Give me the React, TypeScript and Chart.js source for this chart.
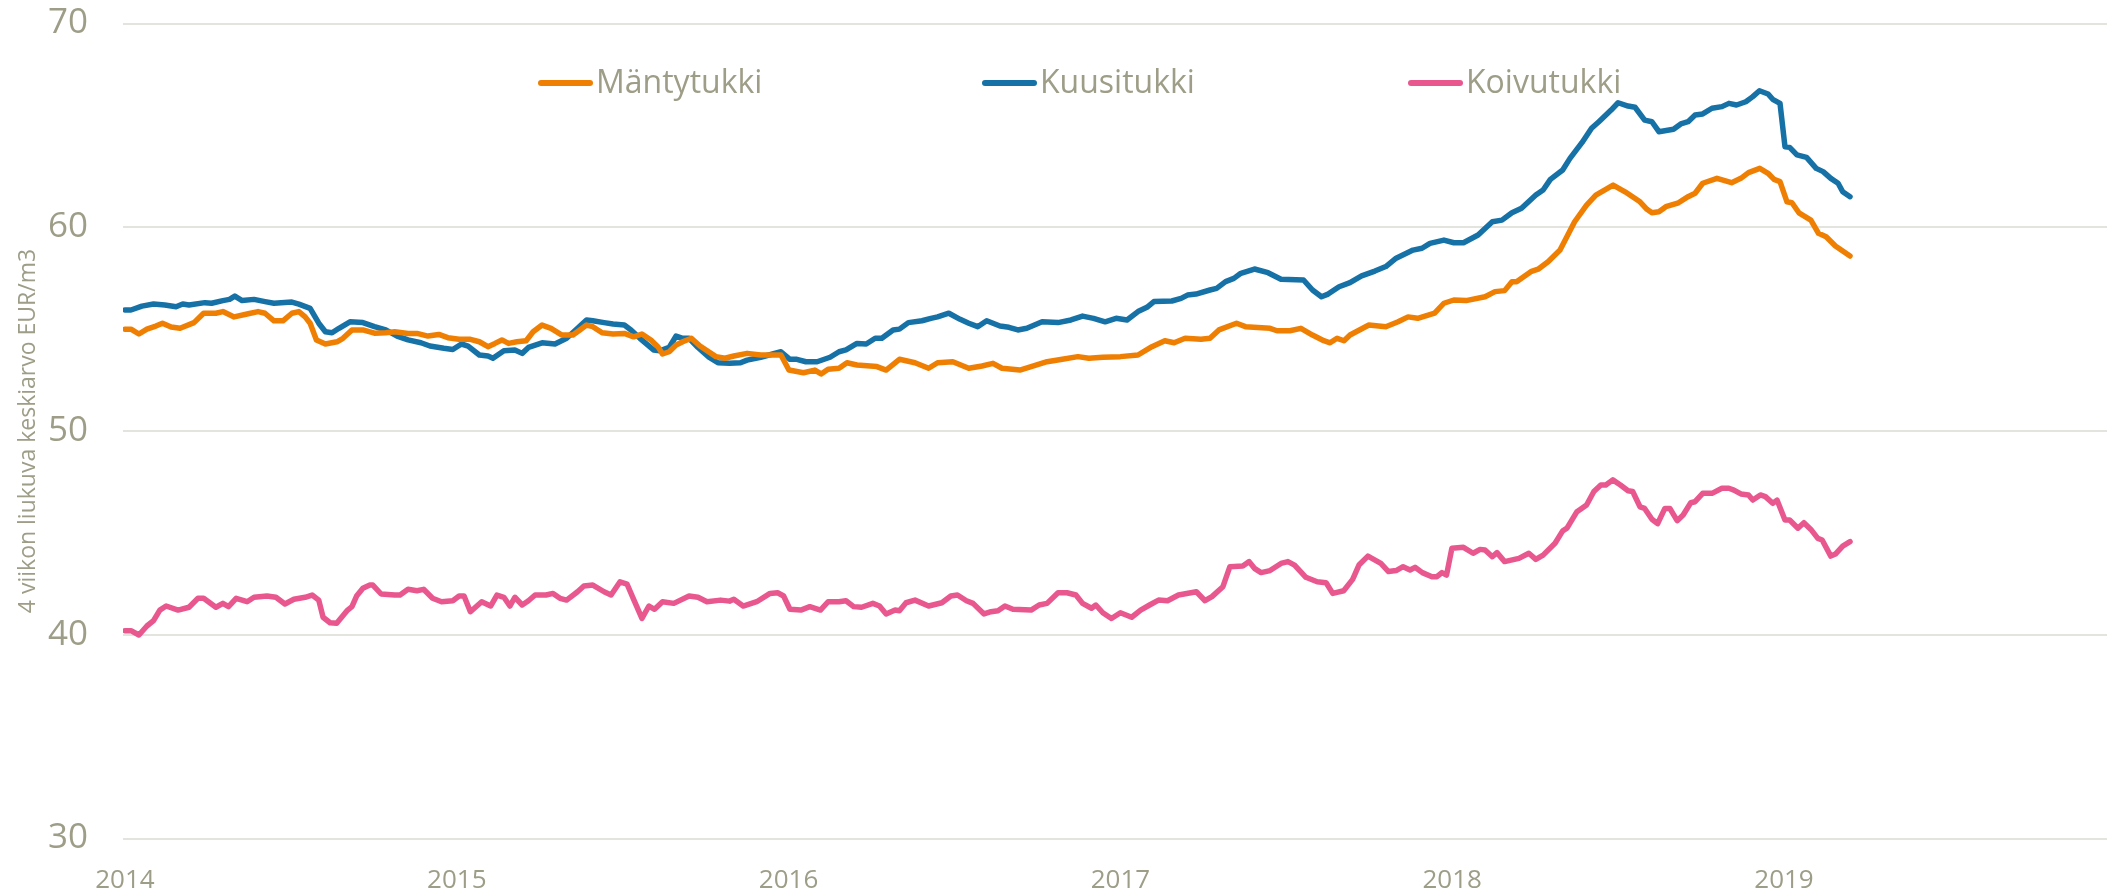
import React, { useEffect, useRef } from "react";
import { Chart, registerables } from "chart.js";

Chart.register(...registerables);

// Weekly 4-week moving averages, [decimal year, EUR/m3]
const mantytukki: [number, number][] = [
  [2014.0, 55.0], [2014.018, 55.0], [2014.042, 54.76], [2014.066, 55.0], [2014.093, 55.15], [2014.113, 55.29],
  [2014.139, 55.1], [2014.166, 55.04], [2014.208, 55.32], [2014.237, 55.78], [2014.274, 55.78], [2014.295, 55.86],
  [2014.329, 55.6], [2014.368, 55.74], [2014.401, 55.86], [2014.422, 55.78], [2014.449, 55.41], [2014.476, 55.41],
  [2014.503, 55.78], [2014.524, 55.86], [2014.543, 55.6], [2014.558, 55.29], [2014.577, 54.47], [2014.604, 54.27],
  [2014.639, 54.38], [2014.657, 54.55], [2014.684, 54.96], [2014.717, 54.96], [2014.752, 54.8], [2014.786, 54.82],
  [2014.813, 54.87], [2014.853, 54.79], [2014.88, 54.79], [2014.913, 54.66], [2014.946, 54.74], [2014.973, 54.58],
  [2015.007, 54.5], [2015.041, 54.5], [2015.068, 54.38], [2015.094, 54.14], [2015.115, 54.3], [2015.136, 54.47],
  [2015.156, 54.3], [2015.181, 54.38], [2015.209, 54.43], [2015.23, 54.87], [2015.257, 55.2], [2015.284, 55.04],
  [2015.317, 54.71], [2015.35, 54.71], [2015.371, 54.96], [2015.391, 55.2], [2015.41, 55.12], [2015.438, 54.82],
  [2015.471, 54.76], [2015.505, 54.79], [2015.533, 54.62], [2015.558, 54.76], [2015.585, 54.47], [2015.606, 54.14],
  [2015.62, 53.78], [2015.64, 53.89], [2015.661, 54.22], [2015.681, 54.38], [2015.707, 54.55], [2015.733, 54.17],
  [2015.781, 53.65], [2015.808, 53.57], [2015.835, 53.68], [2015.875, 53.81], [2015.916, 53.73], [2015.977, 53.73],
  [2016.001, 52.99], [2016.045, 52.86], [2016.079, 52.99], [2016.098, 52.8], [2016.119, 53.03], [2016.152, 53.08],
  [2016.176, 53.35], [2016.206, 53.24], [2016.266, 53.16], [2016.294, 52.99], [2016.334, 53.52], [2016.381, 53.35],
  [2016.422, 53.08], [2016.449, 53.35], [2016.495, 53.4], [2016.543, 53.08], [2016.583, 53.19], [2016.616, 53.32],
  [2016.643, 53.08], [2016.697, 52.99], [2016.731, 53.16], [2016.779, 53.4], [2016.825, 53.52], [2016.872, 53.65],
  [2016.905, 53.57], [2016.947, 53.62], [2017.0, 53.65], [2017.053, 53.73], [2017.095, 54.14], [2017.134, 54.43],
  [2017.162, 54.33], [2017.195, 54.55], [2017.243, 54.5], [2017.27, 54.55], [2017.297, 54.96], [2017.35, 55.29],
  [2017.377, 55.12], [2017.451, 55.04], [2017.472, 54.92], [2017.511, 54.92], [2017.544, 55.04], [2017.579, 54.71],
  [2017.613, 54.43], [2017.632, 54.33], [2017.653, 54.55], [2017.674, 54.43], [2017.692, 54.71], [2017.749, 55.2],
  [2017.8, 55.12], [2017.837, 55.36], [2017.867, 55.6], [2017.896, 55.53], [2017.947, 55.78], [2017.975, 56.27],
  [2018.005, 56.43], [2018.042, 56.4], [2018.099, 56.59], [2018.129, 56.84], [2018.158, 56.89], [2018.18, 57.33],
  [2018.194, 57.33], [2018.237, 57.82], [2018.259, 57.94], [2018.289, 58.31], [2018.325, 58.88], [2018.369, 60.27],
  [2018.405, 61.09], [2018.433, 61.58], [2018.485, 62.07], [2018.521, 61.74], [2018.566, 61.25], [2018.587, 60.88],
  [2018.602, 60.71], [2018.623, 60.76], [2018.644, 61.01], [2018.682, 61.2], [2018.711, 61.5], [2018.732, 61.67],
  [2018.755, 62.16], [2018.798, 62.4], [2018.842, 62.19], [2018.87, 62.4], [2018.893, 62.68], [2018.927, 62.89],
  [2018.952, 62.65], [2018.97, 62.35], [2018.988, 62.24], [2019.009, 61.25], [2019.024, 61.2], [2019.045, 60.71],
  [2019.081, 60.35], [2019.104, 59.7], [2019.127, 59.53], [2019.155, 59.08], [2019.199, 58.59],
];

const kuusitukki: [number, number][] = [
  [2014.0, 55.94], [2014.018, 55.94], [2014.051, 56.13], [2014.086, 56.23], [2014.12, 56.18], [2014.154, 56.1],
  [2014.174, 56.23], [2014.193, 56.18], [2014.241, 56.3], [2014.261, 56.27], [2014.295, 56.4], [2014.315, 56.46],
  [2014.331, 56.62], [2014.353, 56.4], [2014.389, 56.46], [2014.422, 56.35], [2014.449, 56.27], [2014.503, 56.33],
  [2014.524, 56.23], [2014.558, 56.02], [2014.584, 55.29], [2014.604, 54.87], [2014.624, 54.82], [2014.645, 55.04],
  [2014.678, 55.36], [2014.717, 55.32], [2014.752, 55.12], [2014.786, 54.96], [2014.82, 54.66], [2014.853, 54.47],
  [2014.892, 54.33], [2014.919, 54.17], [2014.961, 54.06], [2014.988, 54.0], [2015.014, 54.27], [2015.034, 54.17],
  [2015.068, 53.73], [2015.094, 53.68], [2015.109, 53.57], [2015.142, 53.94], [2015.175, 53.98], [2015.197, 53.81],
  [2015.216, 54.1], [2015.257, 54.33], [2015.296, 54.27], [2015.331, 54.55], [2015.364, 55.04], [2015.391, 55.45],
  [2015.41, 55.41], [2015.444, 55.32], [2015.471, 55.25], [2015.505, 55.2], [2015.525, 54.96], [2015.552, 54.55],
  [2015.593, 53.98], [2015.612, 53.94], [2015.64, 54.1], [2015.661, 54.66], [2015.681, 54.55], [2015.7, 54.55],
  [2015.727, 54.1], [2015.76, 53.62], [2015.787, 53.35], [2015.822, 53.32], [2015.855, 53.35], [2015.875, 53.48],
  [2015.916, 53.62], [2015.977, 53.89], [2016.004, 53.52], [2016.025, 53.52], [2016.052, 53.4], [2016.086, 53.4],
  [2016.125, 53.62], [2016.152, 53.89], [2016.173, 53.98], [2016.206, 54.3], [2016.234, 54.27], [2016.261, 54.55],
  [2016.281, 54.55], [2016.315, 54.96], [2016.334, 55.0], [2016.361, 55.32], [2016.402, 55.41], [2016.429, 55.53],
  [2016.449, 55.6], [2016.483, 55.78], [2016.517, 55.48], [2016.543, 55.29], [2016.57, 55.12], [2016.597, 55.41],
  [2016.637, 55.15], [2016.664, 55.09], [2016.691, 54.96], [2016.718, 55.04], [2016.764, 55.36], [2016.812, 55.32],
  [2016.851, 55.45], [2016.886, 55.64], [2016.919, 55.53], [2016.954, 55.36], [2016.987, 55.53], [2017.02, 55.45],
  [2017.053, 55.86], [2017.08, 56.07], [2017.101, 56.35], [2017.155, 56.38], [2017.183, 56.51], [2017.202, 56.67],
  [2017.228, 56.72], [2017.27, 56.92], [2017.29, 57.0], [2017.317, 57.33], [2017.342, 57.49], [2017.363, 57.74],
  [2017.404, 57.95], [2017.445, 57.77], [2017.484, 57.45], [2017.552, 57.41], [2017.579, 56.92], [2017.606, 56.59],
  [2017.626, 56.72], [2017.659, 57.08], [2017.692, 57.28], [2017.727, 57.61], [2017.767, 57.85], [2017.8, 58.07],
  [2017.831, 58.48], [2017.882, 58.88], [2017.909, 58.97], [2017.933, 59.21], [2017.975, 59.37], [2018.005, 59.24],
  [2018.034, 59.24], [2018.078, 59.62], [2018.121, 60.27], [2018.15, 60.35], [2018.18, 60.71], [2018.209, 60.93],
  [2018.252, 61.58], [2018.274, 61.83], [2018.296, 62.35], [2018.333, 62.81], [2018.355, 63.38], [2018.391, 64.15],
  [2018.42, 64.86], [2018.442, 65.18], [2018.479, 65.75], [2018.5, 66.11], [2018.53, 65.95], [2018.551, 65.89],
  [2018.58, 65.26], [2018.602, 65.18], [2018.623, 64.69], [2018.667, 64.81], [2018.689, 65.07], [2018.711, 65.18],
  [2018.732, 65.51], [2018.755, 65.56], [2018.783, 65.84], [2018.813, 65.92], [2018.834, 66.08], [2018.857, 66.0],
  [2018.885, 66.16], [2018.906, 66.41], [2018.926, 66.7], [2018.952, 66.54], [2018.966, 66.28], [2018.988, 66.08],
  [2019.003, 63.95], [2019.017, 63.92], [2019.039, 63.55], [2019.068, 63.43], [2019.097, 62.89], [2019.118, 62.73],
  [2019.141, 62.4], [2019.163, 62.16], [2019.177, 61.74], [2019.199, 61.5],
];

const koivutukki: [number, number][] = [
  [2014.0, 40.2], [2014.018, 40.2], [2014.042, 39.99], [2014.066, 40.43], [2014.086, 40.69], [2014.105, 41.21],
  [2014.124, 41.41], [2014.16, 41.21], [2014.193, 41.35], [2014.22, 41.79], [2014.237, 41.79], [2014.274, 41.35],
  [2014.295, 41.54], [2014.312, 41.38], [2014.335, 41.79], [2014.368, 41.62], [2014.389, 41.84], [2014.428, 41.9],
  [2014.455, 41.84], [2014.482, 41.51], [2014.509, 41.74], [2014.543, 41.84], [2014.564, 41.95], [2014.584, 41.7],
  [2014.597, 40.86], [2014.618, 40.59], [2014.638, 40.56], [2014.671, 41.21], [2014.684, 41.38], [2014.698, 41.9],
  [2014.717, 42.28], [2014.738, 42.44], [2014.747, 42.44], [2014.772, 42.0], [2014.813, 41.95], [2014.829, 41.95],
  [2014.853, 42.23], [2014.88, 42.16], [2014.9, 42.23], [2014.927, 41.79], [2014.954, 41.62], [2014.988, 41.67],
  [2015.007, 41.9], [2015.022, 41.9], [2015.041, 41.13], [2015.075, 41.62], [2015.102, 41.41], [2015.121, 41.95],
  [2015.142, 41.84], [2015.16, 41.41], [2015.175, 41.84], [2015.197, 41.46], [2015.216, 41.67], [2015.236, 41.95],
  [2015.269, 41.95], [2015.29, 42.03], [2015.311, 41.79], [2015.331, 41.7], [2015.364, 42.11], [2015.383, 42.39],
  [2015.41, 42.44], [2015.444, 42.11], [2015.465, 41.95], [2015.492, 42.6], [2015.513, 42.49], [2015.533, 41.74],
  [2015.558, 40.8], [2015.579, 41.41], [2015.596, 41.25], [2015.62, 41.62], [2015.654, 41.54], [2015.7, 41.9],
  [2015.727, 41.84], [2015.754, 41.62], [2015.795, 41.7], [2015.822, 41.65], [2015.835, 41.74], [2015.863, 41.41],
  [2015.904, 41.62], [2015.944, 42.03], [2015.967, 42.06], [2015.985, 41.9], [2016.004, 41.25], [2016.037, 41.21],
  [2016.064, 41.38], [2016.096, 41.21], [2016.119, 41.62], [2016.152, 41.62], [2016.173, 41.67], [2016.196, 41.38],
  [2016.22, 41.35], [2016.254, 41.54], [2016.274, 41.41], [2016.294, 41.02], [2016.321, 41.21], [2016.334, 41.18],
  [2016.354, 41.57], [2016.381, 41.7], [2016.422, 41.41], [2016.462, 41.57], [2016.489, 41.9], [2016.509, 41.95],
  [2016.536, 41.67], [2016.556, 41.54], [2016.589, 41.02], [2016.61, 41.13], [2016.631, 41.18], [2016.652, 41.41],
  [2016.676, 41.25], [2016.731, 41.21], [2016.755, 41.46], [2016.779, 41.54], [2016.812, 42.06], [2016.839, 42.06],
  [2016.866, 41.95], [2016.886, 41.54], [2016.913, 41.3], [2016.926, 41.46], [2016.947, 41.08], [2016.973, 40.8],
  [2017.0, 41.08], [2017.034, 40.86], [2017.061, 41.21], [2017.088, 41.46], [2017.115, 41.7], [2017.142, 41.67],
  [2017.175, 41.95], [2017.229, 42.11], [2017.255, 41.67], [2017.276, 41.87], [2017.309, 42.36], [2017.33, 43.34],
  [2017.369, 43.37], [2017.388, 43.59], [2017.404, 43.26], [2017.424, 43.05], [2017.451, 43.15], [2017.484, 43.5],
  [2017.505, 43.59], [2017.525, 43.42], [2017.559, 42.82], [2017.593, 42.6], [2017.62, 42.55], [2017.64, 42.03],
  [2017.673, 42.16], [2017.7, 42.72], [2017.719, 43.42], [2017.746, 43.86], [2017.785, 43.5], [2017.808, 43.1],
  [2017.831, 43.15], [2017.852, 43.34], [2017.873, 43.18], [2017.888, 43.31], [2017.91, 43.05], [2017.939, 42.85],
  [2017.954, 42.85], [2017.969, 43.05], [2017.983, 42.93], [2017.999, 44.24], [2018.034, 44.29], [2018.063, 44.0],
  [2018.084, 44.19], [2018.099, 44.16], [2018.121, 43.83], [2018.135, 44.03], [2018.158, 43.59], [2018.201, 43.75],
  [2018.231, 44.0], [2018.252, 43.7], [2018.274, 43.91], [2018.31, 44.49], [2018.333, 45.1], [2018.346, 45.23],
  [2018.376, 46.04], [2018.405, 46.37], [2018.427, 47.03], [2018.448, 47.35], [2018.463, 47.35], [2018.484, 47.6],
  [2018.507, 47.35], [2018.53, 47.07], [2018.544, 47.03], [2018.566, 46.28], [2018.58, 46.2], [2018.602, 45.67],
  [2018.619, 45.45], [2018.641, 46.2], [2018.656, 46.2], [2018.678, 45.6], [2018.696, 45.88], [2018.719, 46.48],
  [2018.732, 46.53], [2018.755, 46.94], [2018.783, 46.94], [2018.813, 47.19], [2018.834, 47.19], [2018.849, 47.1],
  [2018.87, 46.91], [2018.893, 46.86], [2018.906, 46.61], [2018.929, 46.86], [2018.944, 46.78], [2018.966, 46.45],
  [2018.979, 46.61], [2019.003, 45.63], [2019.017, 45.63], [2019.042, 45.23], [2019.06, 45.5], [2019.081, 45.17],
  [2019.102, 44.73], [2019.115, 44.65], [2019.141, 43.86], [2019.155, 43.96], [2019.177, 44.35], [2019.199, 44.57],
];

const seriesLabels = ["Mäntytukki", "Kuusitukki", "Koivutukki"];
const seriesColors = ["#ef7f03", "#1672a6", "#e9578f"];
const yearTicks = [2014, 2015, 2016, 2017, 2018, 2019];
const yMin = 30;
const yMax = 70;
const yStep = 10;
const yTitle = "4 viikon liukuva keskiarvo EUR/m3";

const TEXT = "#9e9d87";
const FONT = '"Open Sans", "Noto Sans", sans-serif';

const legendPlugin = {
  id: "insideLegend",
  afterDraw(chart: any) {
    const ctx = chart.ctx;
    const starts = [538, 982, 1408];
    ctx.save();
    chart.data.datasets.forEach((ds: any, i: number) => {
      const x = starts[i];
      const y = 83;
      ctx.strokeStyle = ds.borderColor;
      ctx.lineWidth = 6;
      ctx.lineCap = "round";
      ctx.beginPath();
      ctx.moveTo(x + 3, y);
      ctx.lineTo(x + 52, y);
      ctx.stroke();
      ctx.fillStyle = TEXT;
      ctx.font = `32px ${FONT}`;
      ctx.textBaseline = "alphabetic";
      ctx.textAlign = "left";
      ctx.fillText(ds.label, x + 58, 93);
    });
    ctx.restore();
  },
};

export default function App() {
  const canvasRef = useRef<HTMLCanvasElement | null>(null);

  useEffect(() => {
    if (!canvasRef.current) return;
    const series = [mantytukki, kuusitukki, koivutukki];
    const chart = new Chart(canvasRef.current, {
      type: "line",
      data: {
        datasets: series.map((s, i) => ({
          label: seriesLabels[i],
          data: s.map(([x, y]) => ({ x, y })),
          borderColor: seriesColors[i],
          backgroundColor: seriesColors[i],
          borderWidth: 5.5,
          pointRadius: 0,
          tension: 0,
          borderJoinStyle: "round" as const,
          borderCapStyle: "round" as const,
          fill: false,
        })),
      },
      options: {
        animation: false,
        responsive: false,
        layout: { padding: { top: 23.5, right: 0, bottom: 0, left: 0 } },
        plugins: {
          legend: { display: false },
          tooltip: { enabled: false },
        },
        scales: {
          x: {
            type: "linear",
            min: 2013.994,
            max: 2019.9735,
            afterBuildTicks: (scale: any) => {
              scale.ticks = yearTicks.map((v) => ({ value: v }));
            },
            afterFit: (scale: any) => {
              scale.height = 57.5;
              scale.paddingLeft = 0;
              scale.paddingRight = 0;
            },
            ticks: {
              autoSkip: false,
              maxRotation: 0,
              padding: 26,
              color: TEXT,
              font: { family: FONT, size: 26 },
              callback: (v: any) => String(v),
            },
            grid: { display: false, drawTicks: false },
            border: { display: false },
          },
          y: {
            min: yMin,
            max: yMax,
            afterFit: (scale: any) => {
              scale.width = 123;
              scale.paddingTop = 0;
              scale.paddingBottom = 0;
            },
            ticks: {
              stepSize: yStep,
              padding: 35,
              color: TEXT,
              font: { family: FONT, size: 35 },
            },
            grid: { color: "#e4e4df", lineWidth: 2, drawTicks: false },
            border: { display: false },
            title: {
              display: true,
              text: yTitle,
              color: TEXT,
              font: { family: FONT, size: 23 },
              padding: { top: 15, bottom: 0 },
            },
          },
        },
      },
      plugins: [legendPlugin],
    });
    return () => chart.destroy();
  }, []);

  return (
    <div style={{ position: "fixed", left: 0, top: 0, width: 2107, height: 896, background: "#fff" }}>
      <canvas ref={canvasRef} width={2107} height={896} style={{ display: "block" }} />
    </div>
  );
}
